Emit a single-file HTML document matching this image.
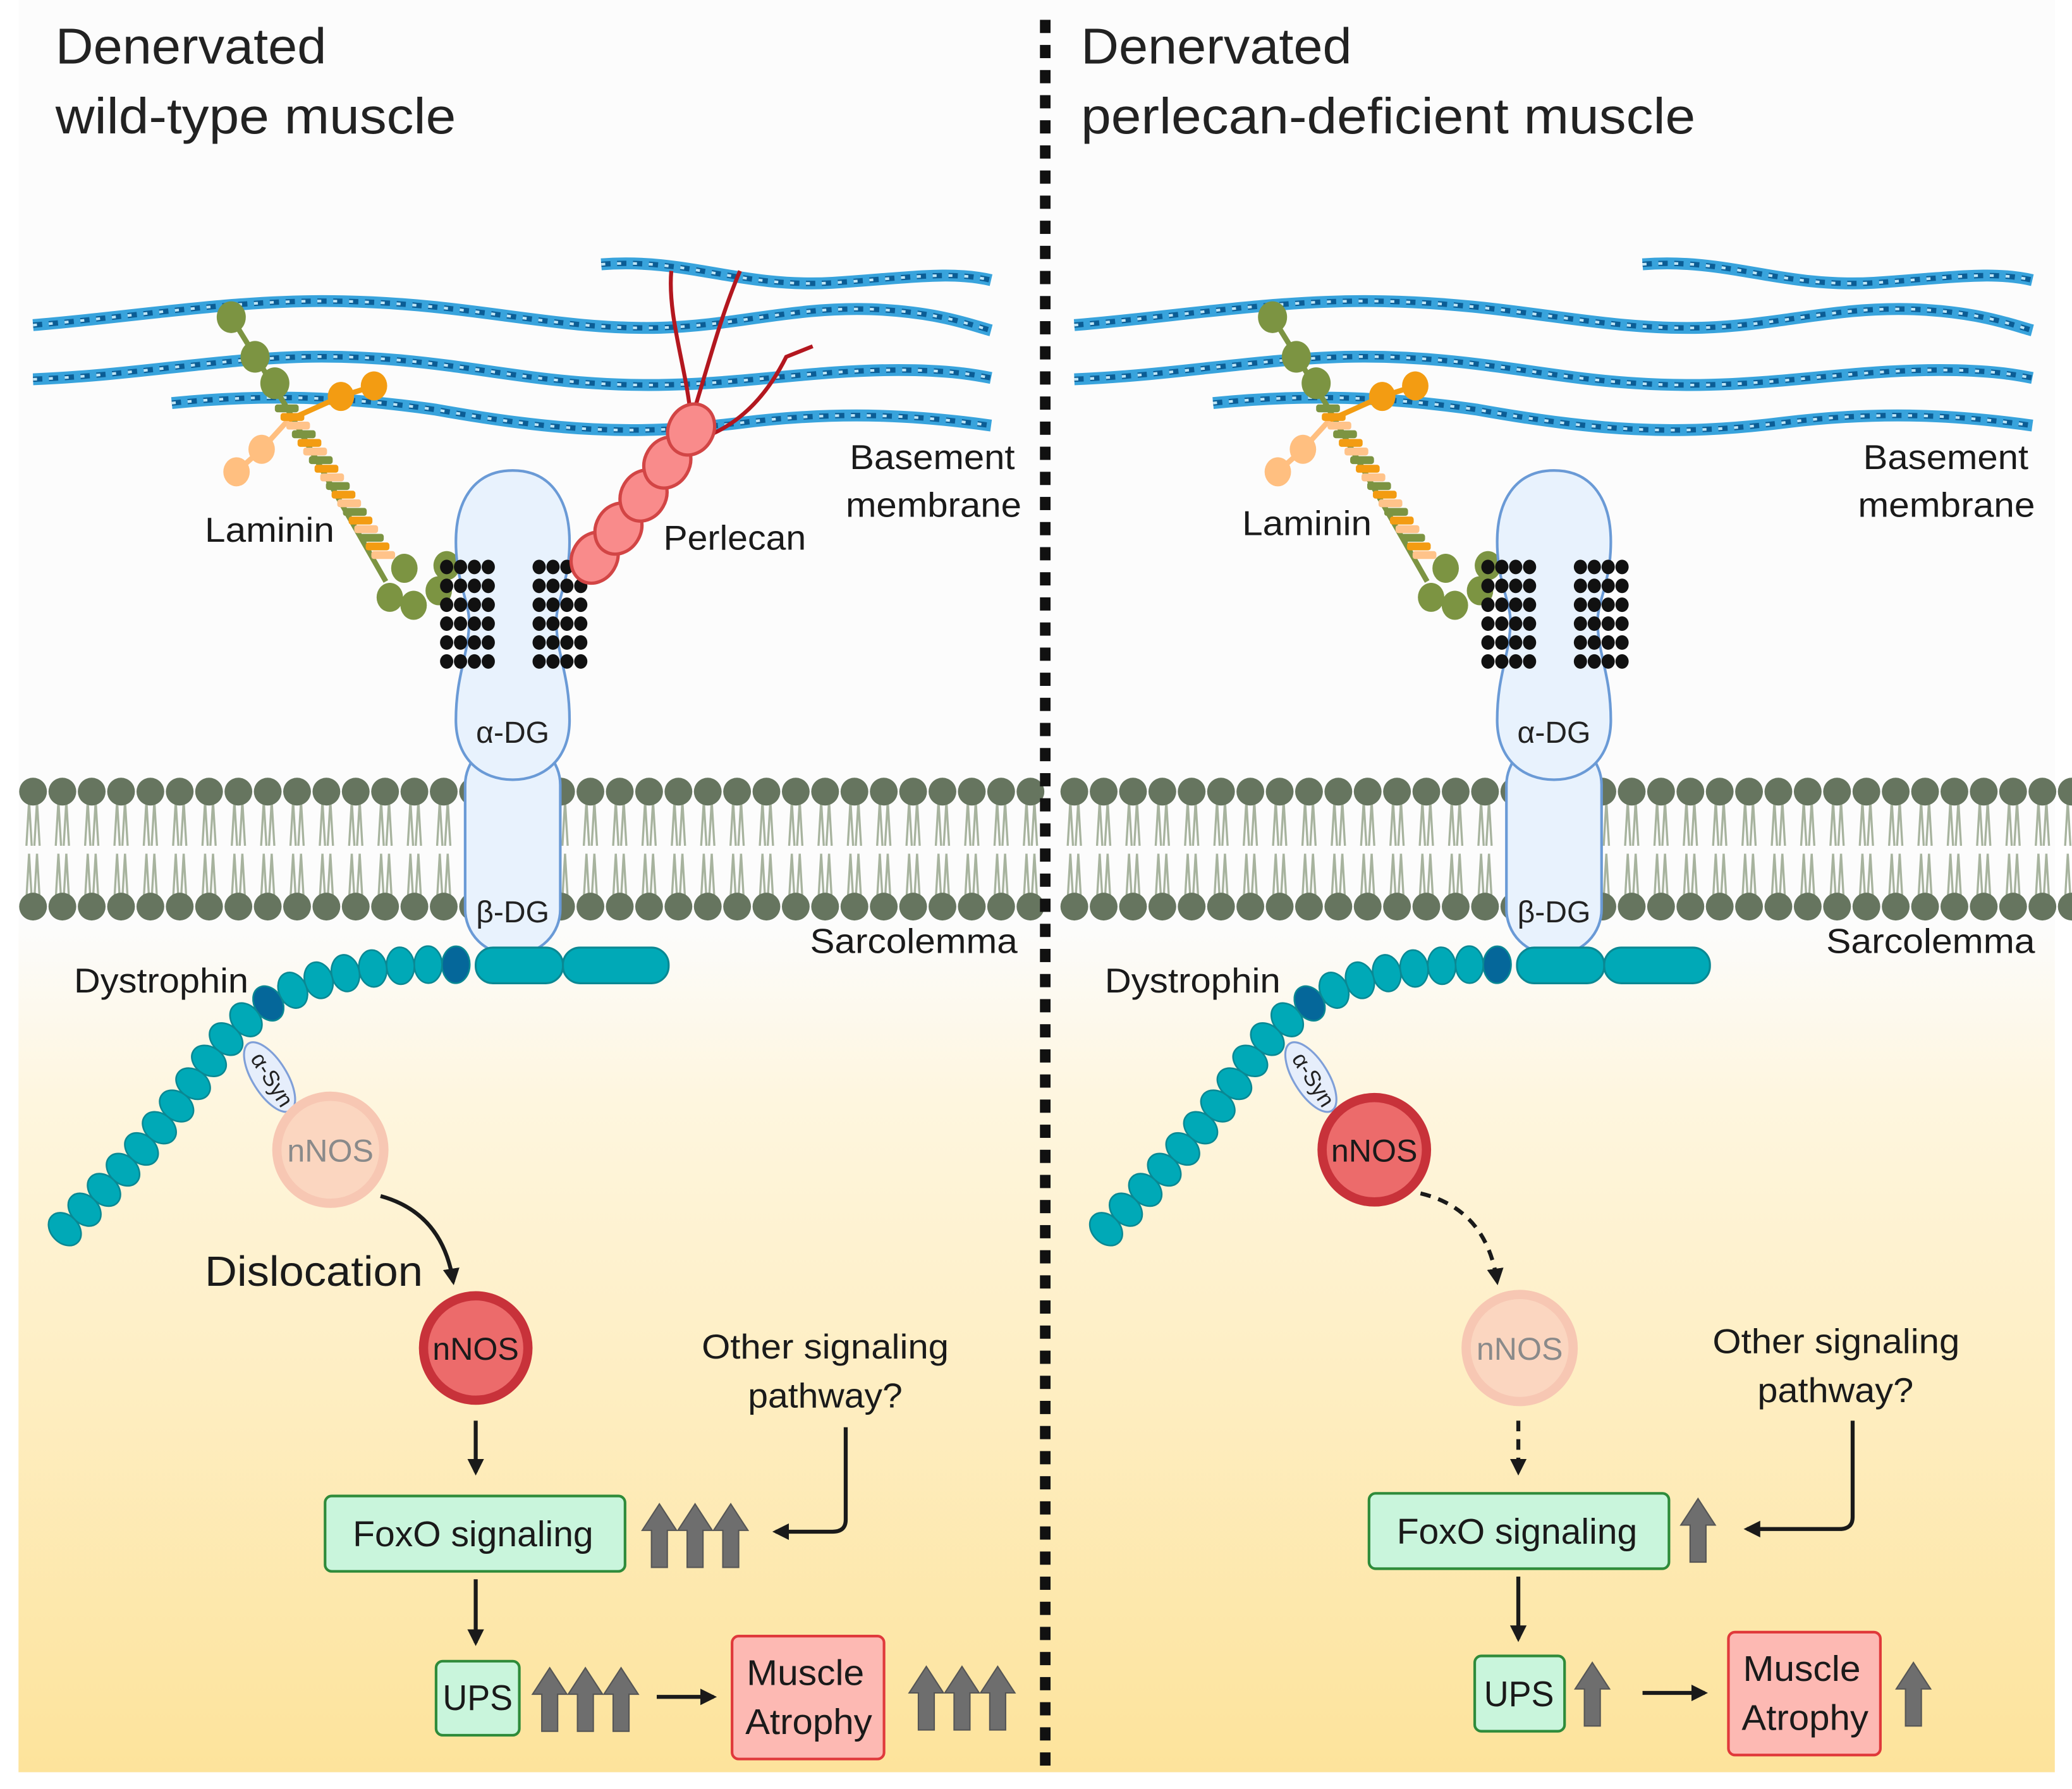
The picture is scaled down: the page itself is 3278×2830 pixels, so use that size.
<!DOCTYPE html>
<html><head><meta charset="utf-8"><style>
html,body{margin:0;padding:0;background:#fff;}
svg{display:block;}
text{font-family:"Liberation Sans",sans-serif;}
</style></head><body>
<svg id="s" xmlns="http://www.w3.org/2000/svg" width="3278" height="2830" viewBox="0 0 1568 1353.7" preserveAspectRatio="none">
<defs>
<linearGradient id="bg" x1="0" y1="0" x2="0" y2="1">
<stop offset="0" stop-color="#fcfcfc"/><stop offset="0.52" stop-color="#fcfcfc"/>
<stop offset="0.62" stop-color="#fef6df"/><stop offset="1" stop-color="#fde39b"/></linearGradient>
<marker id="ah" viewBox="0 0 10 10" refX="8" refY="5" markerWidth="4.2" markerHeight="4.2" orient="auto"><path d="M0,0 L10,5 L0,10 z" fill="#1a1a1a"/></marker>
<g id="garrow"><path d="M0,-24 L13,-4 L6,-4 L6,24 L-6,24 L-6,-4 L-13,-4 z" fill="#6e6e6e" stroke="#555" stroke-width="1"/></g>
</defs>
<rect x="0" y="0" width="1568" height="1354" fill="#fff"/>
<rect x="14" y="0" width="1541" height="1341" fill="url(#bg)"/>
<g id="p0"></g><g id="p1" transform="translate(788,0)"></g>
<g id="div"></g>
<g id="extra"></g>
<g fill="#222" font-size="38" lengthAdjust="spacingAndGlyphs">
<text x="42" y="48" textLength="205" lengthAdjust="spacingAndGlyphs">Denervated</text>
<text x="42" y="101" textLength="303" lengthAdjust="spacingAndGlyphs">wild-type muscle</text>
<text x="818" y="48" textLength="205" lengthAdjust="spacingAndGlyphs">Denervated</text>
<text x="818" y="101" textLength="465" lengthAdjust="spacingAndGlyphs">perlecan-deficient muscle</text>
</g>
<g font-size="26" fill="#1a1a1a">
<text x="155" y="410" textLength="98" lengthAdjust="spacingAndGlyphs">Laminin</text>
<text x="502" y="416" textLength="108" lengthAdjust="spacingAndGlyphs">Perlecan</text>
<text x="643" y="355" textLength="125" lengthAdjust="spacingAndGlyphs">Basement</text>
<text x="640" y="391" textLength="133" lengthAdjust="spacingAndGlyphs">membrane</text>
<text x="613" y="721" textLength="157" lengthAdjust="spacingAndGlyphs">Sarcolemma</text>
<text x="56" y="751" textLength="132" lengthAdjust="spacingAndGlyphs">Dystrophin</text>
<text x="940" y="405" textLength="98" lengthAdjust="spacingAndGlyphs">Laminin</text>
<text x="1410" y="355" textLength="125" lengthAdjust="spacingAndGlyphs">Basement</text>
<text x="1406" y="391" textLength="134" lengthAdjust="spacingAndGlyphs">membrane</text>
<text x="1382" y="721" textLength="158" lengthAdjust="spacingAndGlyphs">Sarcolemma</text>
<text x="836" y="751" textLength="133" lengthAdjust="spacingAndGlyphs">Dystrophin</text>
<text x="531" y="1028" textLength="187" lengthAdjust="spacingAndGlyphs">Other signaling</text>
<text x="566" y="1065" textLength="117" lengthAdjust="spacingAndGlyphs">pathway?</text>
<text x="1296" y="1024" textLength="187" lengthAdjust="spacingAndGlyphs">Other signaling</text>
<text x="1330" y="1061" textLength="118" lengthAdjust="spacingAndGlyphs">pathway?</text>
</g>
<text x="155" y="973" font-size="32" fill="#1a1a1a" textLength="165" lengthAdjust="spacingAndGlyphs">Dislocation</text>
<g stroke-width="2">
<rect x="246" y="1132" width="227" height="57" rx="5" fill="#c9f5dc" stroke="#2e8b3a"/>
<rect x="330" y="1257" width="63" height="56" rx="5" fill="#c9f5dc" stroke="#2e8b3a"/>
<rect x="554" y="1238" width="115" height="93" rx="5" fill="#fdb9b3" stroke="#e0393b"/>
<rect x="1036" y="1130" width="227" height="57" rx="5" fill="#c9f5dc" stroke="#2e8b3a"/>
<rect x="1116" y="1253" width="68" height="57" rx="5" fill="#c9f5dc" stroke="#2e8b3a"/>
<rect x="1308" y="1235" width="115" height="93" rx="5" fill="#fdb9b3" stroke="#e0393b"/>
</g>
<g font-size="27" fill="#1a1a1a">
<text x="267" y="1170" textLength="182" lengthAdjust="spacingAndGlyphs">FoxO signaling</text>
<text x="335" y="1294" textLength="53" lengthAdjust="spacingAndGlyphs">UPS</text>
<text x="565" y="1275" textLength="89" lengthAdjust="spacingAndGlyphs">Muscle</text>
<text x="564" y="1312" textLength="96" lengthAdjust="spacingAndGlyphs">Atrophy</text>
<text x="1057" y="1168" textLength="182" lengthAdjust="spacingAndGlyphs">FoxO signaling</text>
<text x="1123" y="1291" textLength="53" lengthAdjust="spacingAndGlyphs">UPS</text>
<text x="1319" y="1272" textLength="89" lengthAdjust="spacingAndGlyphs">Muscle</text>
<text x="1318" y="1309" textLength="96" lengthAdjust="spacingAndGlyphs">Atrophy</text>
</g>
<g stroke="#1a1a1a" stroke-width="3" fill="none" marker-end="url(#ah)">
<path d="M288,905 Q335,918 343,970"/>
<path d="M360,1075 L360,1114"/>
<path d="M360,1195 L360,1243"/>
<path d="M497,1284 L540,1284"/>
<path d="M640,1080 L640,1150 Q640,1159 630,1159 L587,1159"/>
<path d="M1075,903 Q1125,915 1133,970" stroke-dasharray="8,6"/>
<path d="M1149,1075 L1149,1114" stroke-dasharray="8,6"/>
<path d="M1149,1193 L1149,1240"/>
<path d="M1243,1281 L1290,1281"/>
<path d="M1402,1075 L1402,1148 Q1402,1157 1392,1157 L1322,1157"/>
</g>
<use href="#garrow" x="499" y="1162"/><use href="#garrow" x="526" y="1162"/><use href="#garrow" x="553" y="1162"/>
<use href="#garrow" x="416" y="1286"/><use href="#garrow" x="443" y="1286"/><use href="#garrow" x="470" y="1286"/>
<use href="#garrow" x="701" y="1285"/><use href="#garrow" x="728" y="1285"/><use href="#garrow" x="755" y="1285"/>
<use href="#garrow" x="1285" y="1158"/>
<use href="#garrow" x="1205" y="1282"/>
<use href="#garrow" x="1448" y="1282"/>
<g>
<circle cx="250" cy="870" r="44" fill="#f7c7b3"/><circle cx="250" cy="870" r="37" fill="#fbd6c0"/>
<text x="250" y="879" font-size="24" fill="#8a8a8a" text-anchor="middle">nNOS</text>
<circle cx="360" cy="1020" r="43" fill="#c8323a"/><circle cx="360" cy="1020" r="36" fill="#ec6b6b"/>
<text x="360" y="1029" font-size="24" fill="#1a1a1a" text-anchor="middle">nNOS</text>
<circle cx="1040" cy="870" r="43" fill="#c8323a"/><circle cx="1040" cy="870" r="36" fill="#ec6b6b"/>
<text x="1040" y="879" font-size="24" fill="#1a1a1a" text-anchor="middle">nNOS</text>
<circle cx="1150" cy="1020" r="44" fill="#f7c7b3"/><circle cx="1150" cy="1020" r="37" fill="#fbd6c0"/>
<text x="1150" y="1029" font-size="24" fill="#8a8a8a" text-anchor="middle">nNOS</text>
</g>
<script><![CDATA[
var NS="http://www.w3.org/2000/svg";
function el(p,t,a){var e=document.createElementNS(NS,t);for(var k in a)e.setAttribute(k,a[k]);p.appendChild(e);return e;}
var dv=document.getElementById("div");
for(var y=15;y<1330;y+=19)el(dv,"rect",{x:787,y:y,width:8,height:10,fill:"#111"});
function panel(g,left){
 var fib=[ "M455,200 C520,195 560,218 630,214 C690,210 720,205 750,212",
  "M25,246 C100,240 180,226 260,228 C360,230 420,250 500,248 C560,246 600,232 660,234 C710,236 735,246 750,250",
  "M25,287 C100,284 160,272 230,270 C320,268 380,286 450,290 C540,296 600,280 680,280 C720,280 740,284 750,286",
  "M130,305 C200,298 260,300 330,310 C420,326 480,330 560,320 C640,310 700,315 750,322"];
 fib.forEach(function(d){
  el(g,"path",{d:d,stroke:"#38a3dc",fill:"none","stroke-width":9});
  el(g,"path",{d:d,stroke:"#0b5d95",fill:"none","stroke-width":4,"stroke-dasharray":"7,5"});
  el(g,"path",{d:d,stroke:"#bfe6f7",fill:"none","stroke-width":2,"stroke-dasharray":"3,9"});
 });
 for(var x=25;x<785;x+=22.2){
  for(var k=0;k<2;k++){var dx=k?5:-5;
   el(g,"path",{d:"M"+(x-3)+",606 L"+(x-3+dx*0.4)+",640 M"+(x+3)+",606 L"+(x+3+dx*0.4)+",640",stroke:"#a7b39e","stroke-width":1.6,fill:"none"});
   el(g,"path",{d:"M"+(x-3)+",646 L"+(x-3-dx*0.4)+",680 M"+(x+3)+",646 L"+(x+3-dx*0.4)+",680",stroke:"#a7b39e","stroke-width":1.6,fill:"none"});}
  el(g,"circle",{cx:x,cy:599,r:10.5,fill:"#66755f"});
  el(g,"circle",{cx:x,cy:686,r:10.5,fill:"#66755f"});
 }
 var G="#7c9442";
 el(g,"path",{d:"M175,240 L215,305 L292,440",stroke:G,"stroke-width":4,fill:"none"});
 el(g,"path",{d:"M283,292 L258,300 L218,318",stroke:"#f39c12","stroke-width":4,fill:"none"});
 el(g,"path",{d:"M218,318 L198,340 L179,357",stroke:"#ffbf80","stroke-width":4,fill:"none"});
 for(var i=0;i<18;i++){var t=i/17;var cx=217+t*(290-217),cy=309+t*(420-309);
  var c=["#7c9442","#f39c12","#ffc38a"][i%3];
  el(g,"rect",{x:cx-9,y:cy-3,width:18,height:6,rx:2,fill:c});}
 [[175,240],[193,270],[208,290]].forEach(function(p){el(g,"ellipse",{cx:p[0],cy:p[1],rx:11,ry:12,fill:G});});
 [[283,292],[258,300]].forEach(function(p){el(g,"ellipse",{cx:p[0],cy:p[1],rx:10,ry:11,fill:"#f39c12"});});
 [[198,340],[179,357]].forEach(function(p){el(g,"ellipse",{cx:p[0],cy:p[1],rx:10,ry:11,fill:"#ffbf80"});});
 [[295,452],[313,458],[332,447],[306,430],[338,428]].forEach(function(p){el(g,"ellipse",{cx:p[0],cy:p[1],rx:10,ry:11,fill:G});});
 el(g,"rect",{x:352,y:560,width:72,height:162,rx:34,fill:"#e8f2fd",stroke:"#6a9ad6","stroke-width":2});
 el(g,"path",{d:"M388,356 C358,356 345,380 345,410 C345,440 355,455 355,470 C355,495 345,510 345,545 C345,575 365,590 388,590 C411,590 431,575 431,545 C431,510 421,495 421,470 C421,455 431,440 431,410 C431,380 418,356 388,356 Z",fill:"#e8f2fd",stroke:"#6a9ad6","stroke-width":2});
 el(g,"text",{x:388,y:562,"font-size":23,"text-anchor":"middle",fill:"#222"}).textContent="\u03b1-DG";
 el(g,"text",{x:388,y:698,"font-size":23,"text-anchor":"middle",fill:"#222"}).textContent="\u03b2-DG";
 for(var r=0;r<6;r++)for(var c2=0;c2<4;c2++){
  el(g,"ellipse",{cx:338+c2*10.5,cy:429+r*14.3,rx:5,ry:5.5,fill:"#111"});
  el(g,"ellipse",{cx:408+c2*10.5,cy:429+r*14.3,rx:5,ry:5.5,fill:"#111"});}
 el(g,"rect",{x:360,y:717,width:66,height:27,rx:13,fill:"#00a9b7",stroke:"#0a8893","stroke-width":1.5});
 el(g,"rect",{x:426,y:717,width:80,height:27,rx:13,fill:"#00a9b7",stroke:"#0a8893","stroke-width":1.5});
 var p=el(g,"path",{d:"M345,730 C260,728 200,745 160,800 C120,860 80,900 44,935",fill:"none"});
 var L=p.getTotalLength();var n=0;
 for(var s=0;s<L;s+=21){var a=p.getPointAtLength(s),b=p.getPointAtLength(Math.min(L,s+1));
  var ang=Math.atan2(b.y-a.y,b.x-a.x)*180/Math.PI;
  var col=(n==0||n==7)?"#05679a":"#00a9b7";
  el(g,"ellipse",{cx:a.x,cy:a.y,rx:10.5,ry:14,fill:col,stroke:"#0a8893","stroke-width":1.2,transform:"rotate("+ang+" "+a.x+" "+a.y+")"});n++;}
 el(g,"ellipse",{cx:204,cy:815,rx:13,ry:30,fill:"#e6eefb",stroke:"#7f9fd8","stroke-width":1.5,transform:"rotate(-32 204 815)"});
 el(g,"text",{x:0,y:0,"font-size":17,fill:"#222","text-anchor":"middle",transform:"translate(201,820) rotate(58)"}).textContent="\u03b1-Syn";
}
panel(document.getElementById("p0"),true);
panel(document.getElementById("p1"),false);
var ex=document.getElementById("extra");
["M523,318 C520,280 505,240 508,205","M523,318 C535,280 545,240 560,205","M535,330 C560,320 580,300 595,270 L615,262"].forEach(function(d){el(ex,"path",{d:d,stroke:"#b3171f","stroke-width":3,fill:"none"});});
[[450,422],[468,400],[487,375],[505,350],[523,325]].forEach(function(c){el(ex,"ellipse",{cx:c[0],cy:c[1],rx:17,ry:20,fill:"#f98b8b",stroke:"#d24545","stroke-width":2.5,transform:"rotate(30 "+c[0]+" "+c[1]+")"});});
]]></script>
</svg>
</body></html>
